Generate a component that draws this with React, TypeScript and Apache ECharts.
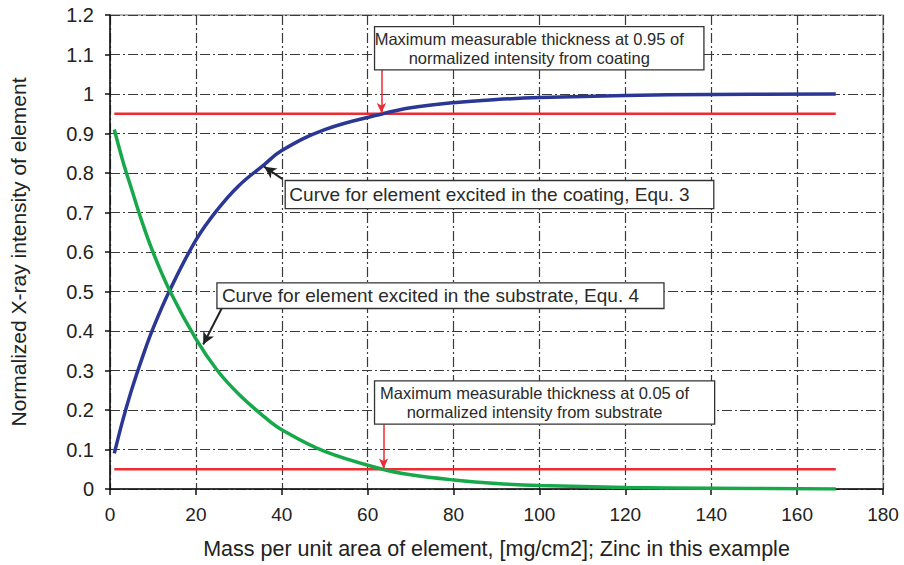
import React, { useEffect, useRef } from "react";
import * as echarts from "echarts";

// Mass per unit area [mg/cm2]
const massX = [1, 3, 5, 7.5, 10, 14, 20, 25, 30, 36, 40, 50, 63.5, 70, 80, 90, 100, 120, 140, 169];
// Normalized intensity, element excited in the coating (Equ. 3)
const coatingIntensity = [0.09, 0.175, 0.25, 0.332, 0.406, 0.505, 0.63, 0.707, 0.768, 0.822, 0.857, 0.91, 0.95, 0.965, 0.978, 0.986, 0.991, 0.996, 0.999, 1.0];
// Normalized intensity, element excited in the substrate (Equ. 4)
const substrateIntensity = [0.91, 0.83, 0.76, 0.675, 0.6, 0.5, 0.38, 0.3, 0.24, 0.182, 0.15, 0.095, 0.05, 0.036, 0.023, 0.014, 0.009, 0.004, 0.002, 0.0];
// Threshold lines
const thresholdLevels = [0.95, 0.05];
const thresholdRange = [1, 169];

const xLabelName = "Mass per unit area of element, [mg/cm2]; Zinc in this example";
const yLabelName = "Normalized X-ray intensity of element";

// Annotation boxes in data units: [xLeft, yTop, xRight, yBottom]
const annotationTexts = [
  "Maximum measurable thickness at 0.95 of\nnormalized intensity from coating",
  "Curve for element excited in the coating, Equ. 3",
  "Curve for element excited in the substrate, Equ. 4",
  "Maximum measurable thickness at 0.05 of\nnormalized intensity from substrate",
];
const annotationBoxes = [
  [61.6, 1.1705, 138.3, 1.061],
  [40.8, 0.781, 140.6, 0.71],
  [24.9, 0.522, 129.0, 0.457],
  [61.6, 0.2736, 140.8, 0.1642],
];
const annotationFontSizes = [16.5, 19, 19, 16.5];
// Arrows in data units: [fromX, fromY, toX, toY]
const redArrows = [
  [63.2, 1.061, 63.2, 0.952],
  [63.7, 0.164, 63.7, 0.052],
];
const blackArrows = [
  [40.1, 0.785, 35.9, 0.816],
  [26.0, 0.457, 21.7, 0.366],
];

const BLUE = "#2b3795";
const GREEN = "#17a84a";
const RED = "#ee2b30";
const FONT = "'Liberation Sans', Arial, Helvetica, sans-serif";

export default function App() {
  const ref = useRef<HTMLDivElement>(null);
  useEffect(() => {
    if (!ref.current) return;
    const chart = echarts.init(ref.current, undefined, { renderer: "svg" });
    const pairs = (ys: number[]) => massX.map((x, i) => [x, ys[i]]);
    const option: any = {
      animation: false,
      backgroundColor: "#fff",
      grid: { left: 107, right: 21, top: 15, bottom: 75, show: true, borderColor: "#9a9a9a", borderWidth: 1.5, backgroundColor: "transparent" },
      xAxis: {
        type: "value",
        min: 0,
        max: 180,
        interval: 20,
        name: xLabelName,
        nameLocation: "middle",
        nameGap: 49,
        nameTextStyle: { fontFamily: FONT, fontSize: 21.5, color: "#222" },
        axisLine: { show: true, onZero: false, lineStyle: { color: "#111", width: 1.5 } },
        axisTick: { show: true, length: 6, lineStyle: { color: "#111", width: 1.5 } },
        axisLabel: { fontFamily: FONT, fontSize: 19, color: "#222", margin: 16 },
        splitLine: { show: true, lineStyle: { color: "#3a3a3a", width: 1.2, type: [10, 3, 2, 3] } },
      },
      yAxis: {
        type: "value",
        min: 0,
        max: 1.2,
        interval: 0.1,
        name: yLabelName,
        nameLocation: "middle",
        nameGap: 81,
        nameRotate: 90,
        nameTextStyle: { fontFamily: FONT, fontSize: 21, color: "#222" },
        axisLine: { show: true, onZero: false, lineStyle: { color: "#111", width: 1.5 } },
        axisTick: { show: true, length: 5, lineStyle: { color: "#111", width: 1.5 } },
        axisLabel: {
          fontFamily: FONT,
          fontSize: 20,
          color: "#222",
          margin: 16,
          formatter: (v: number) => String(+v.toFixed(1)),
        },
        splitLine: { show: true, lineStyle: { color: "#3a3a3a", width: 1.2, type: [10, 3, 2, 3] } },
      },
      series: [
        ...thresholdLevels.map((lv) => ({
          type: "line",
          data: thresholdRange.map((x) => [x, lv]),
          showSymbol: false,
          silent: true,
          lineStyle: { color: RED, width: 2.5 },
          z: 3,
        })),
        {
          type: "line",
          data: pairs(coatingIntensity),
          smooth: 0.4,
          showSymbol: false,
          silent: true,
          lineStyle: { color: BLUE, width: 3.5 },
          z: 4,
        },
        {
          type: "line",
          data: pairs(substrateIntensity),
          smooth: 0.4,
          showSymbol: false,
          silent: true,
          lineStyle: { color: GREEN, width: 3.5 },
          z: 4,
        },
        {
          type: "line",
          data: [],
          silent: true,
          z: 6,
          markLine: {
            silent: true,
            animation: false,
            label: { show: false },
            symbol: ["none", "arrow"],
            symbolSize: [7, 10],
            lineStyle: { color: RED, width: 1.5, type: "solid" },
            emphasis: { disabled: true },
            data: redArrows.map((a) => [{ coord: [a[0], a[1]] }, { coord: [a[2], a[3]] }]),
          },
        },
        {
          type: "line",
          data: [],
          silent: true,
          z: 6,
          markLine: {
            silent: true,
            animation: false,
            label: { show: false },
            symbol: ["none", "arrow"],
            symbolSize: [9, 12],
            lineStyle: { color: "#222", width: 2, type: "solid" },
            emphasis: { disabled: true },
            data: blackArrows.map((a) => [{ coord: [a[0], a[1]] }, { coord: [a[2], a[3]] }]),
          },
        },
      ],
    };
    chart.setOption(option);

    const graphics: any[] = [];
    annotationBoxes.forEach((b, i) => {
      const p0 = chart.convertToPixel({ gridIndex: 0 }, [b[0], b[1]]) as number[];
      const p1 = chart.convertToPixel({ gridIndex: 0 }, [b[2], b[3]]) as number[];
      const w = p1[0] - p0[0];
      const h = p1[1] - p0[1];
      graphics.push({
        type: "rect",
        shape: { x: p0[0], y: p0[1], width: w, height: h },
        style: { fill: "#fff", stroke: "#333", lineWidth: 1.3 },
        z: 10,
      });
      graphics.push({
        type: "text",
        x: p0[0] + w / 2 - 10,
        y: p0[1] + h / 2,
        style: {
          text: annotationTexts[i],
          fontFamily: FONT,
          fontSize: annotationFontSizes[i],
          lineHeight: 19,
          fill: "#2a2a2a",
          align: "center",
          verticalAlign: "middle",
        },
        z: 11,
      });
    });
    chart.setOption({ graphic: graphics });

    return () => chart.dispose();
  }, []);
  return <div ref={ref} style={{ width: 904, height: 565, position: "absolute", left: 0, top: 0 }} />;
}
